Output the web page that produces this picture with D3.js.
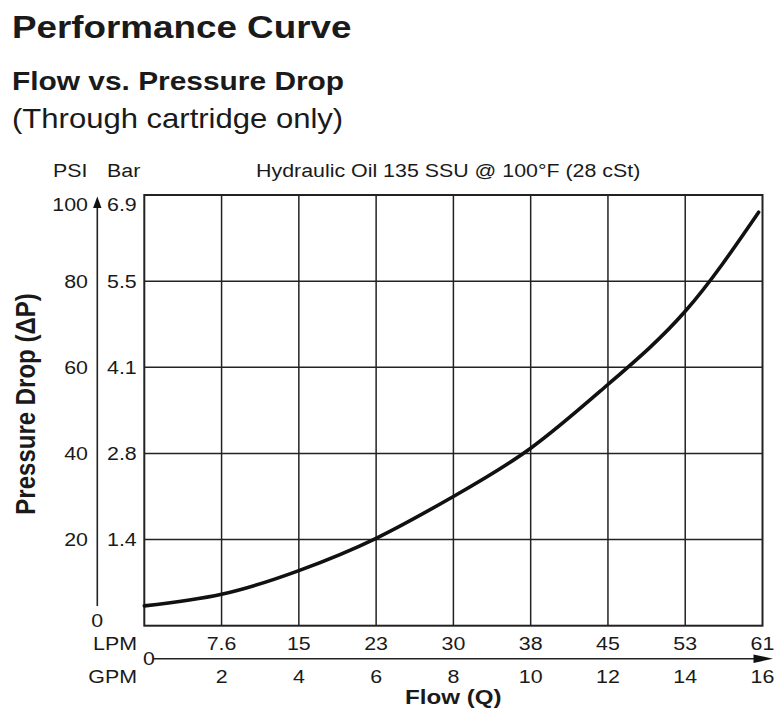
<!DOCTYPE html>
<html>
<head>
<meta charset="utf-8">
<script src="https://cdn.jsdelivr.net/npm/d3@7/dist/d3.min.js"></script>
<style>
  html, body { margin: 0; padding: 0; background: #fff; }
  svg { display: block; }
  text { font-family: "Liberation Sans", Arial, Helvetica, sans-serif; fill: #1a1a1a; }
</style>
</head>
<body>
<svg id="chart" width="776" height="710"></svg>
<script>
// Flow in GPM and the pressure drop (PSI) measured through the cartridge
const flowGpm = [0, 2, 4, 6, 8, 10, 12, 14, 15.9];
const dropPsi = [4.6, 7.3, 12.8, 20.3, 30, 41.2, 56, 73, 96];

// Axis tick labels (primary and secondary units)
const gpmTicks = [2, 4, 6, 8, 10, 12, 14, 16];
const lpmTicks = ["7.6", "15", "23", "30", "38", "45", "53", "61"];
const psiTicks = [20, 40, 60, 80, 100];
const barTicks = ["1.4", "2.8", "4.1", "5.5", "6.9"];

const svg = d3.select("#chart");
const SX = 1.15; // horizontal widening applied to all lettering

const plot = { left: 144.3, right: 762.5, top: 195, bottom: 625.7 };

const x = d3.scaleLinear().domain([0, 16]).range([plot.left, plot.right]);
const y = d3.scaleLinear().domain([0, 100]).range([plot.bottom, plot.top]);

function label(str, px, py, opts = {}) {
  const t = svg.append("text")
    .attr("transform", `translate(${px},${py}) scale(${SX},1)` + (opts.rotate ? ` rotate(${opts.rotate})` : ""))
    .attr("text-anchor", opts.anchor || "start")
    .style("font-size", (opts.size || 18.6) + "px")
    .style("font-weight", opts.bold ? "bold" : "normal")
    .text(str);
  return t;
}

// Headings
label("Performance Curve", 12, 38, { size: 32, bold: true });
label("Flow vs. Pressure Drop", 12, 90, { size: 26, bold: true });
label("(Through cartridge only)", 12, 128, { size: 27 });

// Unit headers and fluid note
label("PSI", 53, 177);
label("Bar", 107, 177);
label("Hydraulic Oil 135 SSU @ 100°F (28 cSt)", 256, 177);

// Grid
const grid = svg.append("g").attr("stroke", "#222").attr("stroke-width", 1.5);
grid.selectAll("line.v")
  .data(gpmTicks.slice(0, -1))
  .join("line")
  .attr("x1", d => x(d)).attr("x2", d => x(d))
  .attr("y1", y(0)).attr("y2", y(100));
grid.selectAll("line.h")
  .data(psiTicks.slice(0, -1))
  .join("line")
  .attr("x1", x(0)).attr("x2", x(16))
  .attr("y1", d => y(d)).attr("y2", d => y(d));

// Frame
svg.append("rect")
  .attr("x", x(0)).attr("y", y(100))
  .attr("width", x(16) - x(0)).attr("height", y(0) - y(100))
  .attr("fill", "none").attr("stroke", "#222").attr("stroke-width", 2);

// Performance curve
const line = d3.line()
  .x((d, i) => x(flowGpm[i]))
  .y(d => y(d))
  .curve(d3.curveNatural);
svg.append("path")
  .datum(dropPsi)
  .attr("d", line)
  .attr("fill", "none")
  .attr("stroke", "#111")
  .attr("stroke-width", 3.6)
  .attr("stroke-linecap", "round");

// Vertical pressure axis with arrow
const yAxisX = 97.3;
svg.append("line")
  .attr("x1", yAxisX).attr("x2", yAxisX)
  .attr("y1", y(4.6)).attr("y2", y(100) + 8)
  .attr("stroke", "#222").attr("stroke-width", 1.6);
svg.append("path")
  .attr("d", `M${yAxisX},${y(100) + 1.5} L${yAxisX - 4.2},${y(100) + 13} L${yAxisX + 4.2},${y(100) + 13} Z`)
  .attr("fill", "#111");

// PSI and Bar tick labels
psiTicks.forEach((v, i) => {
  const cy = v === 100 ? y(v) + 9 : y(v);
  label(String(v), 88, cy + 6.7, { anchor: "end" });
  label(barTicks[i], 107, cy + 6.7);
});
label("0", yAxisX, 627, { anchor: "middle" });

// Horizontal flow axis with arrow
const xAxisY = 658.7;
svg.append("line")
  .attr("x1", 153).attr("x2", x(16))
  .attr("y1", xAxisY).attr("y2", xAxisY)
  .attr("stroke", "#222").attr("stroke-width", 1.6);
svg.append("path")
  .attr("d", `M${x(16) + 10.5},${xAxisY} L${x(16) - 9},${xAxisY - 4.2} L${x(16) - 9},${xAxisY + 4.2} Z`)
  .attr("fill", "#111");

// LPM and GPM tick labels
label("LPM", 137, 650, { anchor: "end" });
label("GPM", 137, 683, { anchor: "end" });
label("0", 143, 665);
gpmTicks.forEach((v, i) => {
  label(lpmTicks[i], x(v), 650, { anchor: "middle" });
  label(String(v), x(v), 683, { anchor: "middle" });
});

// Axis titles
label("Flow (Q)", 405, 704, { size: 21, bold: true });
label("Pressure Drop (\u0394P)", 35, 404, { size: 24, bold: true, rotate: -90, anchor: "middle" });
</script>
</body>
</html>
